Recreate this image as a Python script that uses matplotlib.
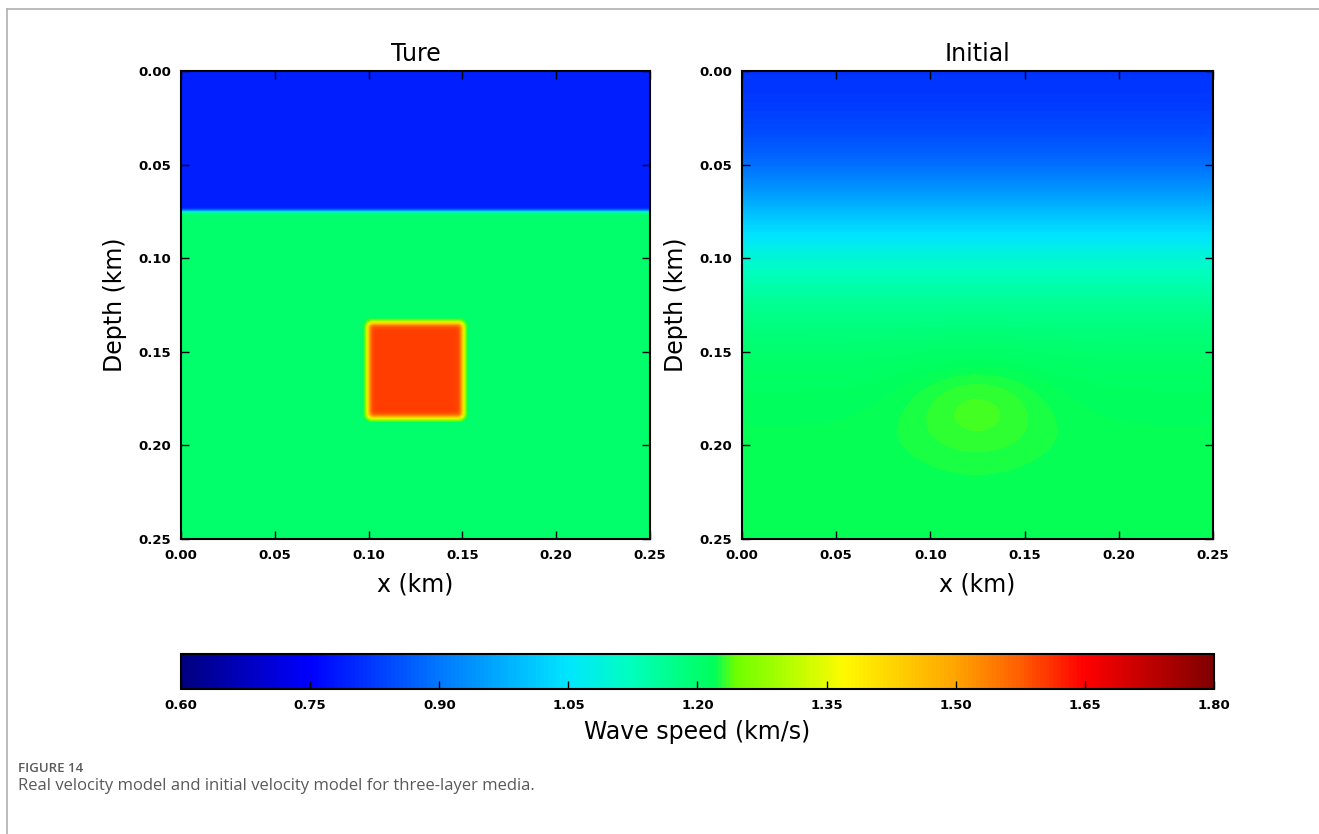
import numpy as np
import matplotlib
matplotlib.use("Agg")
import matplotlib.pyplot as plt
from matplotlib.colors import LinearSegmentedColormap, Normalize
from matplotlib.cm import ScalarMappable

# --- true model (three-layer media) ---
top_layer_speed = 0.79      # km/s
bottom_layer_speed = 1.20
anomaly_speed = 1.60
interface_depth = 0.075     # km
anomaly_x = [0.10, 0.15]
anomaly_z = [0.135, 0.185]

# --- initial model: smooth depth profile + weak bump ---
profile_depth = [0.0, 0.0125, 0.025, 0.0375, 0.05, 0.0625, 0.075, 0.0875, 0.10, 0.1125,
                 0.125, 0.1375, 0.15, 0.1625, 0.175, 0.1875, 0.20, 0.2125, 0.225, 0.2375, 0.25]
profile_speed = [0.815, 0.825, 0.84, 0.865, 0.90, 0.95, 1.005, 1.055, 1.10, 1.135,
                 1.165, 1.185, 1.20, 1.21, 1.215, 1.218, 1.22, 1.22, 1.22, 1.22, 1.22]
bump_center = [0.125, 0.18]
bump_radius = [0.040, 0.030]
bump_amp = 0.019

xticks = [0.00, 0.05, 0.10, 0.15, 0.20, 0.25]
cbar_ticks = [0.60, 0.75, 0.90, 1.05, 1.20, 1.35, 1.50, 1.65, 1.80]
vmin, vmax = 0.60, 1.80

# colormap stops
cmap_vals = [0.60, 0.75, 0.90, 1.05, 1.12, 1.20, 1.22, 1.245, 1.30, 1.37, 1.50, 1.58, 1.65, 1.80]
cmap_cols = ['#000080', '#0000ff', '#0078ff', '#00e6ff', '#00ffbe', '#00ff6e', '#00ff5a',
             '#6eff00', '#aaff00', '#fffa00', '#ffa500', '#ff5a00', '#ff0000', '#800000']
cmap = LinearSegmentedColormap.from_list(
    'vel', [((v - vmin) / (vmax - vmin), c) for v, c in zip(cmap_vals, cmap_cols)])


def smooth(a, sigma):
    # separable gaussian blur, sigma in grid cells
    r = int(3 * sigma) + 1
    k = np.exp(-0.5 * (np.arange(-r, r + 1) / sigma) ** 2)
    k /= k.sum()
    p = np.pad(a, r, mode='edge')
    p = np.apply_along_axis(lambda v: np.convolve(v, k, mode='same'), 0, p)
    p = np.apply_along_axis(lambda v: np.convolve(v, k, mode='same'), 1, p)
    return p[r:-r, r:-r]


# build true model grid (1 m cells)
xg = np.linspace(0, 0.25, 251)
X, Z = np.meshgrid(xg, xg)
layer = smooth((Z >= interface_depth).astype(float), 0.8)
box = ((X >= anomaly_x[0]) & (X <= anomaly_x[1]) &
       (Z >= anomaly_z[0]) & (Z <= anomaly_z[1])).astype(float)
box = smooth(box, 1.4)
true_model = top_layer_speed + (bottom_layer_speed - top_layer_speed) * layer
true_model = true_model + (anomaly_speed - bottom_layer_speed) * box

# initial model grid
pz = np.array(profile_depth)
PX, PZ = np.meshgrid(pz, pz)
init_model = np.array(profile_speed)[:, None] + 0 * PX
init_model = init_model + bump_amp * np.exp(-(((PX - bump_center[0]) / bump_radius[0]) ** 2
                                             + ((PZ - bump_center[1]) / bump_radius[1]) ** 2))

fig = plt.figure(figsize=(13.19, 8.34), dpi=100)
W, H = 1319, 834

ax1 = fig.add_axes([181 / W, 1 - 539 / H, 469 / W, 468 / H])
ax2 = fig.add_axes([742 / W, 1 - 539 / H, 471 / W, 468 / H])
cax = fig.add_axes([181 / W, 1 - 689 / H, 1033 / W, 35 / H])

ext = [0, 0.25, 0.25, 0]
ax1.imshow(true_model, cmap=cmap, vmin=vmin, vmax=vmax, extent=ext,
           aspect='auto', interpolation='bilinear')
ax2.imshow(init_model, cmap=cmap, vmin=vmin, vmax=vmax, extent=ext,
           aspect='auto', interpolation='bicubic')

for ax, title in [(ax1, 'Ture'), (ax2, 'Initial')]:
    ax.set_xlim(0, 0.25)
    ax.set_ylim(0.25, 0)
    ax.set_xticks(xticks)
    ax.set_yticks(xticks)
    ax.set_xticklabels([f'{t:.2f}' for t in xticks], fontweight='bold', fontsize=9.5)
    ax.set_yticklabels([f'{t:.2f}' for t in xticks], fontweight='bold', fontsize=9.5)
    ax.tick_params(direction='in', top=True, right=True, length=6, width=1, pad=7)
    ax.set_title(title, fontsize=17, pad=7)
    ax.set_xlabel('x (km)', fontsize=17, labelpad=8)
    ax.set_ylabel('Depth (km)', fontsize=17, labelpad=8)
    for s in ax.spines.values():
        s.set_linewidth(1.5)

cb = fig.colorbar(ScalarMappable(norm=Normalize(vmin, vmax), cmap=cmap), cax=cax,
                  orientation='horizontal', ticks=cbar_ticks)
cb.ax.set_xticklabels([f'{t:.2f}' for t in cbar_ticks], fontweight='bold', fontsize=9.5)
cb.ax.tick_params(direction='in', length=6, width=1, pad=7)
cb.outline.set_linewidth(1.5)
cb.set_label('Wave speed (km/s)', fontsize=17, labelpad=6)

# page frame lines and caption
fig.add_artist(plt.Line2D([7 / W, 7 / W], [0, 1 - 9 / H], color='#b0b0b0', lw=1.2))
fig.add_artist(plt.Line2D([7 / W, 1], [1 - 9 / H, 1 - 9 / H], color='#b0b0b0', lw=1.2))
fig.text(18 / W, 1 - 768 / H, 'FIGURE 14', fontsize=9.5, color='#5a5a5a',
         family='Open Sans', fontweight='semibold', va='center')
fig.text(18 / W, 1 - 786 / H, 'Real velocity model and initial velocity model for three-layer media.',
         fontsize=12, color='#5a5a5a', family='Open Sans', va='center')

fig.savefig('out.png', dpi=100)
